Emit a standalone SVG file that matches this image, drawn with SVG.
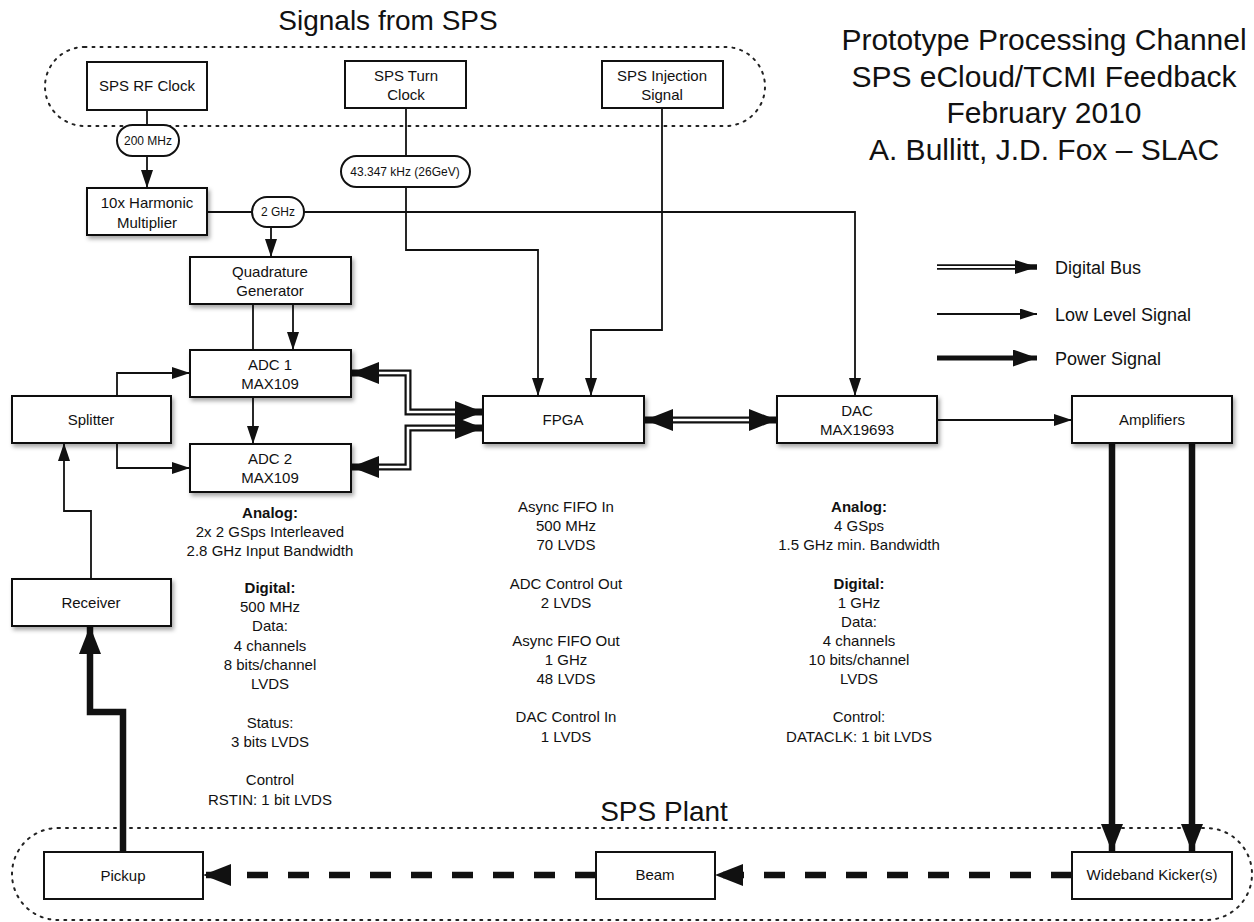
<svg xmlns="http://www.w3.org/2000/svg" width="1254" height="922" viewBox="0 0 1254 922">
<style>
text{font-family:"Liberation Sans",Arial,sans-serif;fill:#111;text-anchor:middle}
.box{fill:#fff;stroke:#111;stroke-width:2}
.sh{filter:url(#shadow)}
.bt{font-size:15px}
.pill{fill:#fff;stroke:#111;stroke-width:2}
.pt{font-size:12px}
.thin{fill:none;stroke:#111;stroke-width:1.8;marker-end:url(#ah)}
.line{fill:none;stroke:#111;stroke-width:1.8}
.busb{fill:none;stroke:#111;stroke-width:7;stroke-linejoin:miter}
.busw{fill:none;stroke:#fff;stroke-width:2.6;stroke-linejoin:miter}
.pow{fill:none;stroke:#111;stroke-width:6.5;marker-end:url(#bh)}
.dash{fill:none;stroke:#111;stroke-width:6.5;stroke-dasharray:21 20;marker-end:url(#bh)}
.dot{fill:none;stroke:#222;stroke-width:2;stroke-dasharray:2 6;stroke-linecap:round}
.note{font-size:15px}
.b{font-weight:bold}
.title{font-size:28px}
.rt{font-size:30px}
.leg{font-size:18px;text-anchor:start}
</style>
<defs>
<filter id="shadow" x="-10%" y="-20%" width="130%" height="160%">
<feDropShadow dx="2" dy="3" stdDeviation="2" flood-color="#000" flood-opacity="0.35"/>
</filter>
<marker id="ah" markerUnits="userSpaceOnUse" markerWidth="18" markerHeight="12" refX="18" refY="6" orient="auto-start-reverse"><path d="M0,0 L18,6 L0,12 z" fill="#111"/></marker>
<marker id="bh" markerUnits="userSpaceOnUse" markerWidth="28" markerHeight="22" refX="28" refY="11" orient="auto-start-reverse"><path d="M0,0 L28,11 L0,22 z" fill="#111"/></marker>
<marker id="lbus" markerUnits="userSpaceOnUse" markerWidth="22" markerHeight="14" refX="22" refY="7" orient="auto"><path d="M0,0 L22,7 L0,14 z" fill="#111"/></marker>
<marker id="llow" markerUnits="userSpaceOnUse" markerWidth="17" markerHeight="11" refX="17" refY="5.5" orient="auto"><path d="M0,0 L17,5.5 L0,11 z" fill="#111"/></marker>
<marker id="lpow" markerUnits="userSpaceOnUse" markerWidth="24" markerHeight="17" refX="24" refY="8.5" orient="auto"><path d="M0,0 L24,8.5 L0,17 z" fill="#111"/></marker>
</defs>
<rect width="1254" height="922" fill="#fff"/>

<!-- region outlines and titles -->
<rect class="dot" x="45" y="47" width="720" height="79" rx="39.5"/>
<text class="title" x="388" y="30">Signals from SPS</text>
<rect class="dot" x="12" y="828" width="1240" height="92" rx="46"/>
<text class="title" x="664" y="821" font-size="26">SPS Plant</text>
<text class="rt" x="1044" y="50">Prototype Processing Channel</text>
<text class="rt" x="1044" y="87">SPS eCloud/TCMI Feedback</text>
<text class="rt" x="1044" y="123">February 2010</text>
<text class="rt" x="1044" y="160">A. Bullitt, J.D. Fox – SLAC</text>

<!-- connectors -->
<g id="connectors">
<path class="line" d="M147 110 V125"/>
<path class="thin" d="M147 156 V188"/>
<path class="line" d="M207 212 H252"/>
<path class="thin" d="M304 212 H855 V396"/>
<path class="thin" d="M271 227 V257"/>
<path class="line" d="M406 108 V156"/>
<path class="thin" d="M406 187 V250 H538 V396"/>
<path class="thin" d="M662 108 V330 H591 V396"/>
<path class="line" d="M253 304 V350"/>
<path class="thin" d="M293 304 V350"/>
<path class="thin" d="M253 397 V444"/>
<path class="thin" d="M117 396 V373 H190"/>
<path class="thin" d="M117 443 V468 H190"/>
<path class="thin" d="M91 579 V511 H64 V443"/>
<path class="thin" d="M937 420 H1072"/>
<!-- digital buses -->
<path class="busb" d="M351 373 H408 V412 H483" marker-start="url(#bh)" marker-end="url(#bh)"/>
<path class="busw" d="M379 373 H408 V412 H455"/>
<path class="busb" d="M351 467 H408 V428 H483" marker-start="url(#bh)" marker-end="url(#bh)"/>
<path class="busw" d="M379 467 H408 V428 H455"/>
<path class="busb" d="M645 420 H777" marker-start="url(#bh)" marker-end="url(#bh)"/>
<path class="busw" d="M673 420 H749"/>
<!-- power signals -->
<path class="pow" d="M123 852 V712 H90 V626"/>
<path class="pow" d="M1112 443 V852"/>
<path class="pow" d="M1192 443 V852"/>
<!-- beam path -->
<path class="dash" d="M1072 875 H715"/>
<path class="dash" d="M596 875 H203"/>
<!-- legend -->
<path fill="none" stroke="#111" stroke-width="5.5" d="M937 267 H1037" marker-end="url(#lbus)"/>
<path fill="none" stroke="#fff" stroke-width="2" d="M937 267 H1015"/>
<path fill="none" stroke="#111" stroke-width="1.8" d="M937 314 H1037" marker-end="url(#llow)"/>
<path fill="none" stroke="#111" stroke-width="5" d="M937 358 H1037" marker-end="url(#lpow)"/>
</g>
<text class="leg" x="1055" y="274">Digital Bus</text>
<text class="leg" x="1055" y="321">Low Level Signal</text>
<text class="leg" x="1055" y="365">Power Signal</text>

<!-- pills -->
<g id="pill-200"><rect class="pill" x="117" y="125" width="62" height="31" rx="15.5"/><text class="pt" x="148" y="145">200 MHz</text></g>
<g id="pill-2g"><rect class="pill" x="252" y="197" width="52" height="30" rx="15"/><text class="pt" x="278" y="216">2 GHz</text></g>
<g id="pill-43"><rect class="pill" x="341" y="156" width="129" height="31" rx="15.5"/><text class="pt" x="405" y="176">43.347 kHz (26GeV)</text></g>

<!-- nodes -->
<g id="sps-rf-clock"><rect class="box" x="87" y="62" width="120" height="48"/><text class="bt" x="147" y="91">SPS RF Clock</text></g>
<g id="sps-turn-clock"><rect class="box" x="345" y="61" width="121" height="47"/><text class="bt" x="406" y="81">SPS Turn</text><text class="bt" x="406" y="100">Clock</text></g>
<g id="sps-injection"><rect class="box" x="602" y="61" width="121" height="47"/><text class="bt" x="662" y="81">SPS Injection</text><text class="bt" x="662" y="100">Signal</text></g>
<g id="multiplier"><rect class="box sh" x="87" y="188" width="120" height="47"/><text class="bt" x="147" y="208">10x Harmonic</text><text class="bt" x="147" y="228">Multiplier</text></g>
<g id="quadrature"><rect class="box sh" x="190" y="257" width="161" height="47"/><text class="bt" x="270" y="277">Quadrature</text><text class="bt" x="270" y="296">Generator</text></g>
<g id="adc1"><rect class="box sh" x="190" y="350" width="161" height="47"/><text class="bt" x="270" y="370">ADC 1</text><text class="bt" x="270" y="389">MAX109</text></g>
<g id="adc2"><rect class="box sh" x="190" y="444" width="161" height="48"/><text class="bt" x="270" y="464">ADC 2</text><text class="bt" x="270" y="483">MAX109</text></g>
<g id="splitter"><rect class="box sh" x="12" y="396" width="159" height="47"/><text class="bt" x="91" y="425">Splitter</text></g>
<g id="receiver"><rect class="box sh" x="12" y="579" width="159" height="47"/><text class="bt" x="91" y="608">Receiver</text></g>
<g id="fpga"><rect class="box sh" x="483" y="396" width="161" height="47"/><text class="bt" x="563" y="425">FPGA</text></g>
<g id="dac"><rect class="box sh" x="777" y="396" width="160" height="47"/><text class="bt" x="857" y="416">DAC</text><text class="bt" x="857" y="435">MAX19693</text></g>
<g id="amplifiers"><rect class="box sh" x="1072" y="396" width="160" height="47"/><text class="bt" x="1152" y="425">Amplifiers</text></g>
<g id="pickup"><rect class="box" x="44" y="852" width="159" height="47"/><text class="bt" x="123" y="881">Pickup</text></g>
<g id="beam"><rect class="box" x="596" y="852" width="119" height="47"/><text class="bt" x="655" y="880" font-size="14">Beam</text></g>
<g id="kicker"><rect class="box" x="1072" y="852" width="160" height="47"/><text class="bt" x="1152" y="880" font-size="14">Wideband Kicker(s)</text></g>

<!-- annotations -->
<g id="adc-notes">
<text class="note b" x="270" y="518">Analog:</text>
<text class="note" x="270" y="537">2x 2 GSps Interleaved</text>
<text class="note" x="270" y="556">2.8 GHz Input Bandwidth</text>
<text class="note b" x="270" y="593">Digital:</text>
<text class="note" x="270" y="612">500 MHz</text>
<text class="note" x="270" y="631">Data:</text>
<text class="note" x="270" y="651">4 channels</text>
<text class="note" x="270" y="670">8 bits/channel</text>
<text class="note" x="270" y="689">LVDS</text>
<text class="note" x="270" y="728">Status:</text>
<text class="note" x="270" y="747">3 bits LVDS</text>
<text class="note" x="270" y="785">Control</text>
<text class="note" x="270" y="805">RSTIN: 1 bit LVDS</text>
</g>
<g id="fpga-notes">
<text class="note" x="566" y="512">Async FIFO In</text>
<text class="note" x="566" y="531">500 MHz</text>
<text class="note" x="566" y="550">70 LVDS</text>
<text class="note" x="566" y="589">ADC Control Out</text>
<text class="note" x="566" y="608">2 LVDS</text>
<text class="note" x="566" y="646">Async FIFO Out</text>
<text class="note" x="566" y="665">1 GHz</text>
<text class="note" x="566" y="684">48 LVDS</text>
<text class="note" x="566" y="722">DAC Control In</text>
<text class="note" x="566" y="742">1 LVDS</text>
</g>
<g id="dac-notes">
<text class="note b" x="859" y="512">Analog:</text>
<text class="note" x="859" y="531">4 GSps</text>
<text class="note" x="859" y="550">1.5 GHz min. Bandwidth</text>
<text class="note b" x="859" y="589">Digital:</text>
<text class="note" x="859" y="608">1 GHz</text>
<text class="note" x="859" y="627">Data:</text>
<text class="note" x="859" y="646">4 channels</text>
<text class="note" x="859" y="665">10 bits/channel</text>
<text class="note" x="859" y="684">LVDS</text>
<text class="note" x="859" y="722">Control:</text>
<text class="note" x="859" y="742">DATACLK: 1 bit LVDS</text>
</g>
</svg>
